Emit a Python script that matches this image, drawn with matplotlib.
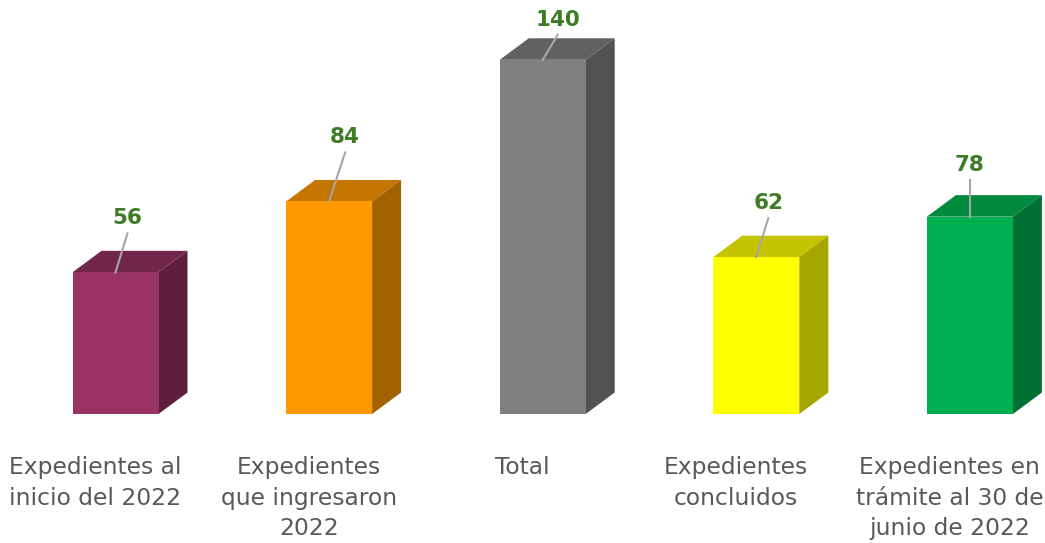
import matplotlib
matplotlib.use("Agg")
import matplotlib.pyplot as plt
from matplotlib.patches import Polygon

categories = ["Expedientes al\ninicio del 2022", "Expedientes\nque ingresaron\n2022", "Total",
              "Expedientes\nconcluidos", "Expedientes en\ntrámite al 30 de\njunio de 2022"]
values = [56, 84, 140, 62, 78]

front_colors = ["#993366", "#FF9900", "#808080", "#FFFF00", "#00B050"]
top_colors = ["#73264C", "#C47600", "#616161", "#C4C400", "#008A3E"]
side_colors = ["#5E1F3E", "#A36200", "#525252", "#A6A600", "#007033"]

W, H = 1045, 543
fig = plt.figure(figsize=(W / 100, H / 100), dpi=100)
ax = fig.add_axes([0, 0, 1, 1])
ax.axis("off")

px_x = 213.6          # pixels per category
px_y = 2.53           # pixels per unit
x0_px, y0_px = 115.5, 129
ax.set_xlim(-x0_px / px_x, (W - x0_px) / px_x)
ax.set_ylim(-y0_px / px_y, (H - y0_px) / px_y)

bw = 86 / px_x
dx = 29 / px_x
dy = 21.5 / px_y

xs = list(range(len(values)))
bars = ax.bar(xs, values, width=bw, color=front_colors, linewidth=0, zorder=3)

label_dx = [12, 16, 15, 12, 0]
label_dy = [54, 64, 40, 54, 52]
for i, (b, v) in enumerate(zip(bars, values)):
    xl = b.get_x()
    xr = xl + b.get_width()
    # top face
    ax.add_patch(Polygon([(xl, v), (xr, v), (xr + dx, v + dy), (xl + dx, v + dy)],
                         closed=True, facecolor=top_colors[i], edgecolor="none", zorder=2))
    # side face
    ax.add_patch(Polygon([(xr, 0), (xr + dx, dy), (xr + dx, v + dy), (xr, v)],
                         closed=True, facecolor=side_colors[i], edgecolor="none", zorder=2))
    cx = xs[i]
    lx = cx + label_dx[i] / px_x
    ly = v + label_dy[i] / px_y
    ax.plot([cx, lx], [v, ly - 15 / px_y], color="#A6A6A6", lw=1.5, zorder=4)
    ax.text(lx, ly, str(v), ha="center", va="center", fontsize=15.5, fontweight="bold",
            color="#3E7B27", zorder=5)

for i, c in enumerate(categories):
    ax.text(xs[i] - 20 / px_x, (-(456 - 414)) / px_y, c, ha="center", va="top",
            fontsize=16.8, color="#595959", linespacing=1.42)

fig.savefig("out.png", dpi=100)
